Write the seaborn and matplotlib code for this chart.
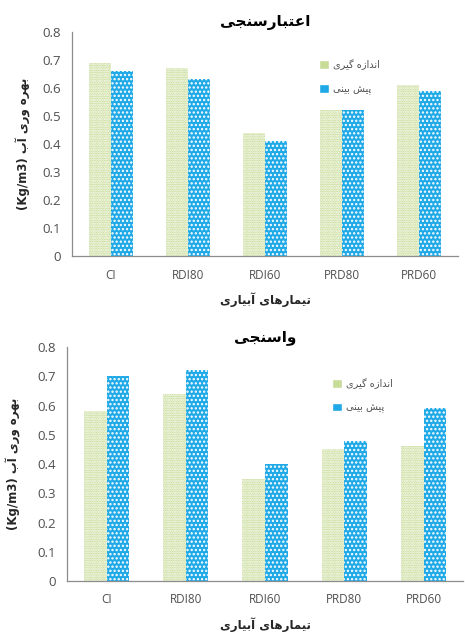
import pandas as pd
import matplotlib
matplotlib.use("Agg")
import matplotlib.pyplot as plt
from matplotlib.ticker import FixedLocator
import seaborn as sns

# --- data ---
treatments = ["CI", "RDI80", "RDI60", "PRD80", "PRD60"]
top_measured = [0.69, 0.67, 0.44, 0.52, 0.61]
top_predicted = [0.66, 0.63, 0.41, 0.52, 0.59]
bottom_measured = [0.58, 0.64, 0.35, 0.45, 0.46]
bottom_predicted = [0.70, 0.72, 0.40, 0.48, 0.59]
y_ticks = [0, 0.1, 0.2, 0.3, 0.4, 0.5, 0.6, 0.7, 0.8]
y_tick_labels = ["0", "0.1", "0.2", "0.3", "0.4", "0.5", "0.6", "0.7", "0.8"]

title_top = "اعتبارسنجی"
title_bottom = "واسنجی"
label_measured = "اندازه گیری"
label_predicted = "پیش بینی"
x_title = "تیمارهای آبیاری"
y_title = "بهره وری آب"
y_unit = "(Kg/m3)"

# --- tiny Persian shaper (matplotlib has no complex text layout) ---
forms = {
    'ا': ('\uFE8D', '\uFE8E'), 'آ': ('\uFE81', '\uFE82'),
    'د': ('\uFEA9', '\uFEAA'), 'ر': ('\uFEAD', '\uFEAE'),
    'ز': ('\uFEAF', '\uFEB0'), 'و': ('\uFEED', '\uFEEE'),
    'ب': ('\uFE8F', '\uFE90', '\uFE91', '\uFE92'),
    'پ': ('\uFB56', '\uFB57', '\uFB58', '\uFB59'),
    'ت': ('\uFE95', '\uFE96', '\uFE97', '\uFE98'),
    'ج': ('\uFE9D', '\uFE9E', '\uFE9F', '\uFEA0'),
    'س': ('\uFEB1', '\uFEB2', '\uFEB3', '\uFEB4'),
    'ش': ('\uFEB5', '\uFEB6', '\uFEB7', '\uFEB8'),
    'ع': ('\uFEC9', '\uFECA', '\uFECB', '\uFECC'),
    'گ': ('\uFB92', '\uFB93', '\uFB94', '\uFB95'),
    'م': ('\uFEE1', '\uFEE2', '\uFEE3', '\uFEE4'),
    'ن': ('\uFEE5', '\uFEE6', '\uFEE7', '\uFEE8'),
    'ه': ('\uFEE9', '\uFEEA', '\uFEEB', '\uFEEC'),
    'ی': ('\uFBFC', '\uFBFD', '\uFBFE', '\uFBFF'),
}


def shape(text):
    out = []
    for i, ch in enumerate(text):
        if ch not in forms:
            out.append(ch)
            continue
        f = forms[ch]
        prev = text[i - 1] if i > 0 else ''
        nxt = text[i + 1] if i + 1 < len(text) else ''
        join_prev = prev in forms and len(forms[prev]) == 4
        join_next = len(f) == 4 and nxt in forms
        if join_prev and join_next:
            out.append(f[3])
        elif join_prev:
            out.append(f[1])
        elif join_next:
            out.append(f[2])
        else:
            out.append(f[0])
    return ''.join(reversed(out))


sns.set_style("white")
plt.rcParams['font.family'] = ['DejaVu Sans']
plt.rcParams['hatch.linewidth'] = 1.1

green = "#c8dc98"
blue = "#1fa9e6"
axis_grey = "#8c8c8c"
text_grey = "#505050"
latin = ['Open Sans', 'DejaVu Sans']

fig = plt.figure(figsize=(4.65, 6.34), dpi=100)
ax_top = fig.add_axes([0.155, 0.596, 0.830, 0.354])
ax_bot = fig.add_axes([0.144, 0.0836, 0.852, 0.369])

panels = [
    (ax_top, top_measured, top_predicted, title_top, (0.63, 0.895), -0.106),
    (ax_bot, bottom_measured, bottom_predicted, title_bottom, (0.66, 0.885), -0.115),
]

for ax, meas, pred, title, leg_pos, ylab_x in panels:
    df = pd.DataFrame({
        'treatment': treatments * 2,
        'value': meas + pred,
        'series': [shape(label_measured)] * len(treatments) + [shape(label_predicted)] * len(treatments),
    })
    sns.barplot(data=df, x='treatment', y='value', hue='series', ax=ax,
                palette=[green, blue], width=0.57, gap=0, saturation=1)

    hatches = ['.......', '....']
    for cont, h in zip(ax.containers, hatches):
        for bar in cont:
            bar.set_hatch(h)
            bar.set_edgecolor('white')
            bar.set_linewidth(0)

    ax.set_xlim(-0.5, len(treatments) - 0.5)
    ax.set_ylim(0, 0.8)
    ax.set_yticks(y_ticks)
    ax.set_yticklabels(y_tick_labels, family=latin, fontsize=9.5, color=text_grey)
    ax.set_xticks(range(len(treatments)))
    ax.set_xticklabels(treatments, family=latin, fontsize=8.5, color=text_grey)
    ax.xaxis.set_minor_locator(FixedLocator([i - 0.5 for i in range(len(treatments) + 1)]))
    ax.tick_params(axis='x', which='major', length=0, pad=9)
    ax.tick_params(axis='x', which='minor', length=4, color=axis_grey, direction='out')
    ax.tick_params(axis='y', length=4, color=axis_grey, direction='out', pad=4)

    sns.despine(ax=ax)
    for side in ['left', 'bottom']:
        ax.spines[side].set_color(axis_grey)
        ax.spines[side].set_linewidth(0.9)

    ax.set_title(shape(title), fontsize=11, fontweight='bold', pad=4, color='black')
    ax.set_xlabel(shape(x_title), fontsize=8.5, fontweight='bold', labelpad=8)
    ax.set_ylabel(y_unit + ' ' + shape(y_title), fontsize=8.5, fontweight='bold')
    ax.yaxis.set_label_coords(ylab_x, 0.5)

    leg = ax.legend(loc='upper left', bbox_to_anchor=leg_pos, frameon=False,
                    fontsize=7, labelspacing=1.4, handlelength=1.0, handleheight=1.0,
                    handletextpad=0.4, borderaxespad=0)
    for t in leg.get_texts():
        t.set_color(text_grey)

fig.savefig("out.png", dpi=100)
